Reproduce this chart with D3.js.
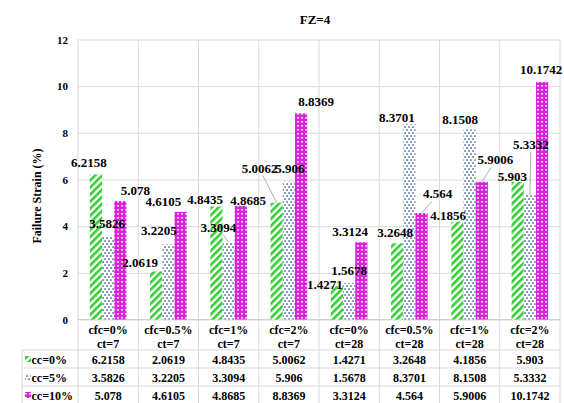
<!DOCTYPE html>
<html>
<head>
<meta charset="utf-8">
<script src="https://cdn.jsdelivr.net/npm/d3@7"></script>
<style>
  html, body { margin: 0; padding: 0; background: #fff; }
  svg { display: block; }
  text { font-family: "Liberation Serif", "Times New Roman", serif; font-weight: bold; fill: #000; }
</style>
</head>
<body>
<svg id="chart" width="564" height="403"></svg>
<script>
// ---- data ----
const categories = [
  ["cfc=0%", "ct=7"], ["cfc=0.5%", "ct=7"], ["cfc=1%", "ct=7"], ["cfc=2%", "ct=7"],
  ["cfc=0%", "ct=28"], ["cfc=0.5%", "ct=28"], ["cfc=1%", "ct=28"], ["cfc=2%", "ct=28"]
];
const seriesNames = ["cc=0%", "cc=5%", "cc=10%"];
const cc0  = [6.2158, 2.0619, 4.8435, 5.0062, 1.4271, 3.2648, 4.1856, 5.903];
const cc5  = [3.5826, 3.2205, 3.3094, 5.906, 1.5678, 8.3701, 8.1508, 5.3332];
const cc10 = [5.078, 4.6105, 4.8685, 8.8369, 3.3124, 4.564, 5.9006, 10.1742];
const yTicks = [0, 2, 4, 6, 8, 10, 12];
const chartTitle = "FZ=4";
const yTitle = "Failure Strain (%)";

// ---- label placement (px offsets from the default spot just above each bar) ----
const labelShift = [
  [[-7, -2.6], [-16, 0.5], [-11.4, 2.7], [-17, -24.8], [-12, 7.7], [-2, -1.7], [-9.4, 3.1], [-5.4, 4.1]],
  [[-1, -3.3], [-9.6, -4.5], [-10.3, -5.1], [1, -3.5], [0, -3], [-12.6, 3], [-9.6, 0], [1, -41.2]],
  [[15, -1], [-17.3, -1.3], [7.2, 4], [15, -2.7], [-11.3, -1.3], [16, -9.8], [13.5, -12.6], [-1, -2.9]]
];
const leader = [
  [0, 0, 0, 1, 0, 0, 0, 0],
  [0, 0, 1, 0, 0, 0, 0, 1],
  [0, 0, 0, 0, 0, 1, 1, 0]
];

const series = [cc0, cc5, cc10];
const fills = ["url(#pGreen)", "url(#pBlue)", "url(#pMag)"];

// ---- layout ----
const W = 564, H = 403;
const plotL = 78, plotR = 560, plotT = 39.5, plotB = 319.5;
const tableL = 22;
const rowLines = [350, 368, 386, 404];
const rowCenters = [359.5, 377.5, 395.5];

const svg = d3.select("#chart");

// ---- fill patterns ----
const defs = svg.append("defs");
const pg = defs.append("pattern").attr("id", "pGreen")
  .attr("patternUnits", "userSpaceOnUse").attr("width", 5).attr("height", 5)
  .attr("patternTransform", "rotate(45)");
pg.append("rect").attr("width", 5).attr("height", 5).attr("fill", "#fff");
pg.append("rect").attr("width", 2.6).attr("height", 5).attr("fill", "#33cc33");

const pb = defs.append("pattern").attr("id", "pBlue")
  .attr("patternUnits", "userSpaceOnUse").attr("width", 4).attr("height", 6);
pb.append("rect").attr("width", 4).attr("height", 6).attr("fill", "#fff");
pb.append("rect").attr("x", 0.3).attr("y", 0.3).attr("width", 1.5).attr("height", 1.5).attr("fill", "#2a5699");
pb.append("rect").attr("x", 2.3).attr("y", 3.3).attr("width", 1.5).attr("height", 1.5).attr("fill", "#2a5699");

const pm = defs.append("pattern").attr("id", "pMag")
  .attr("patternUnits", "userSpaceOnUse").attr("width", 4).attr("height", 4);
pm.append("rect").attr("width", 4).attr("height", 4).attr("fill", "#dd22dd");
pm.append("rect").attr("x", 1).attr("y", 1).attr("width", 2).attr("height", 1.6).attr("fill", "#fff").attr("opacity", 0.8);

// ---- scales ----
const x = d3.scaleBand().domain(d3.range(categories.length)).range([plotL, plotR]).padding(0);
const xs = d3.scaleBand().domain(d3.range(series.length)).range([0, x.bandwidth()])
  .paddingInner(0).paddingOuter(0.97);
const y = d3.scaleLinear().domain([0, 12]).range([plotB, plotT]);

// ---- gridlines & y axis ----
const yAxis = svg.append("g").attr("transform", `translate(${plotL},0)`)
  .call(d3.axisLeft(y).tickValues(yTicks).tickSizeInner(-(plotR - plotL)).tickSizeOuter(0).tickPadding(10));
yAxis.select(".domain").remove();
yAxis.selectAll(".tick line").attr("stroke", "#d9d9d9");
yAxis.selectAll(".tick text").attr("font-size", 11).attr("font-family", "Liberation Serif").attr("font-weight", "bold");

// vertical category separators, running down through the data table
const bounds = d3.range(categories.length).map(i => x(i)).concat([plotR]);
svg.append("g").selectAll("line").data(bounds).join("line")
  .attr("x1", d => d).attr("x2", d => d)
  .attr("y1", plotT).attr("y2", H)
  .attr("stroke", "#d9d9d9");

// table horizontal rules
svg.append("g").selectAll("line").data(rowLines).join("line")
  .attr("x1", tableL).attr("x2", plotR)
  .attr("y1", d => d).attr("y2", d => d)
  .attr("stroke", "#d9d9d9");
svg.append("line").attr("x1", tableL).attr("x2", tableL).attr("y1", rowLines[0]).attr("y2", H)
  .attr("stroke", "#d9d9d9");
// category axis line
svg.append("line").attr("x1", plotL).attr("x2", plotR).attr("y1", y(0)).attr("y2", y(0))
  .attr("stroke", "#d0d0d0");

// ---- bars ----
const barData = [];
series.forEach((vals, s) => vals.forEach((v, i) => barData.push({ s, i, v })));

svg.append("g").selectAll("rect").data(barData).join("rect")
  .attr("x", d => x(d.i) + xs(d.s))
  .attr("y", d => y(d.v))
  .attr("width", xs.bandwidth())
  .attr("height", d => y(0) - y(d.v))
  .attr("fill", d => fills[d.s]);

// ---- data labels (with leader lines where a label sits away from its bar) ----
const lblG = svg.append("g");
const leadG = svg.append("g");
barData.forEach(d => {
  const bx = x(d.i) + xs(d.s) + xs.bandwidth() / 2;
  const by = y(d.v);
  const [dx, dy] = labelShift[d.s][d.i];
  const t = lblG.append("text")
    .attr("x", bx + dx).attr("y", by - 5 + dy)
    .attr("text-anchor", "middle").attr("font-size", 13)
    .text(String(d.v));
  if (leader[d.s][d.i]) {
    const b = t.node().getBBox();
    const cx = b.x + b.width / 2, cy = b.y + b.height / 2 + 1;
    const ddx = bx - cx, ddy = by - cy;
    // clip the segment start to the label box
    const hw = b.width / 2 + 1, hh = b.height / 2 - 1;
    const tt = Math.min(ddx !== 0 ? hw / Math.abs(ddx) : Infinity, ddy !== 0 ? hh / Math.abs(ddy) : Infinity);
    leadG.append("line")
      .attr("x1", cx + ddx * tt).attr("y1", cy + ddy * tt)
      .attr("x2", bx).attr("y2", by)
      .attr("stroke", "#999").attr("stroke-width", 0.8);
  }
});

// ---- category labels ----
const catG = svg.append("g");
categories.forEach((c, i) => {
  const cx = x(i) + x.bandwidth() / 2;
  catG.append("text").attr("x", cx).attr("y", 334).attr("text-anchor", "middle").attr("font-size", 12).text(c[0]);
  catG.append("text").attr("x", cx).attr("y", 347.5).attr("text-anchor", "middle").attr("font-size", 12).text(c[1]);
});

// ---- data table rows with legend keys ----
const tblG = svg.append("g");
series.forEach((vals, s) => {
  const ry = rowCenters[s];
  tblG.append("rect").attr("x", 25).attr("y", ry - 3.5).attr("width", 6).attr("height", 6).attr("fill", fills[s]);
  tblG.append("text").attr("x", 31.5).attr("y", ry + 4.3).attr("font-size", 12).text(seriesNames[s]);
  vals.forEach((v, i) => {
    tblG.append("text").attr("x", x(i) + x.bandwidth() / 2).attr("y", ry + 4.3)
      .attr("text-anchor", "middle").attr("font-size", 12).text(String(v));
  });
});

// ---- titles ----
svg.append("text").attr("x", (plotL + plotR) / 2 - 4).attr("y", 24)
  .attr("text-anchor", "middle").attr("font-size", 13).text(chartTitle);
svg.append("text").attr("transform", `translate(40.5,196) rotate(-90)`)
  .attr("text-anchor", "middle").attr("font-size", 12).text(yTitle);
</script>
</body>
</html>
